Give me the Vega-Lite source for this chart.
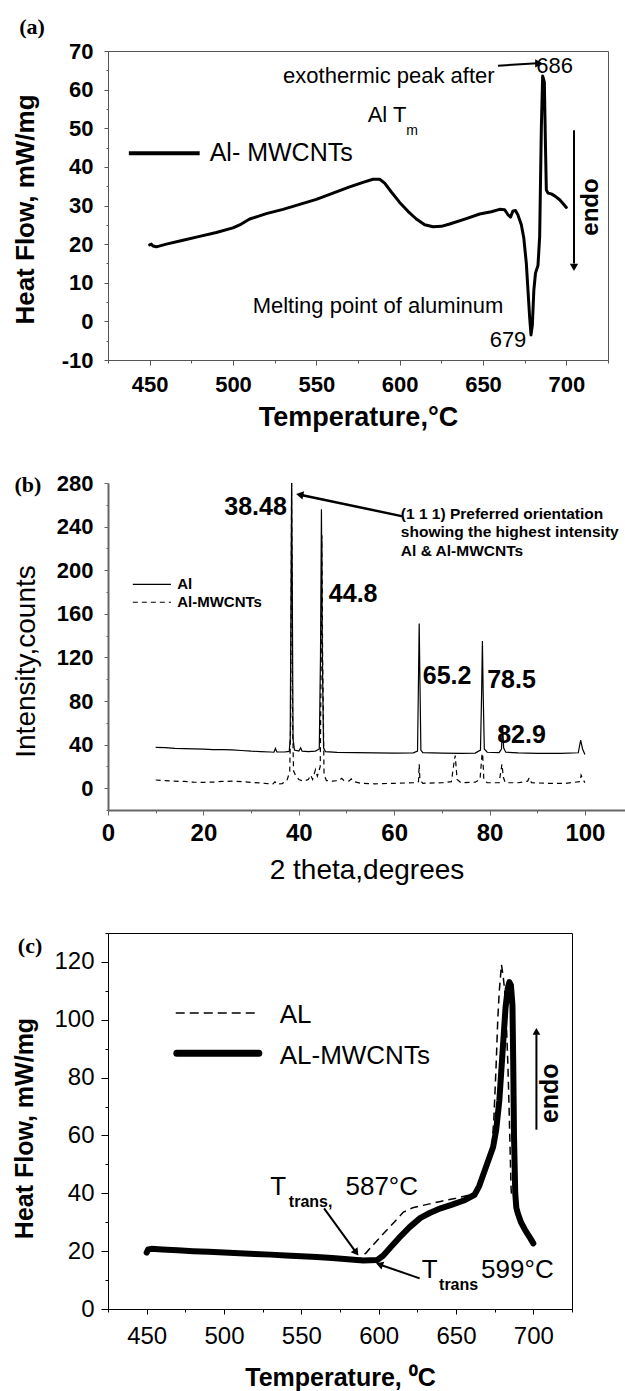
{
  "$schema": "https://vega.github.io/schema/vega-lite/v6.json",
  "background": "white",
  "padding": {"left": 11, "top": 15, "right": 0, "bottom": 0},
  "bounds": "flush",
  "spacing": 123,
  "config": {
    "font": "Liberation Sans",
    "axis": {"grid": false, "labelColor": "black", "titleColor": "black", "labelOverlap": false, "labelFlush": false, "labelBound": false, "labelFont": "Liberation Sans", "titleFont": "Liberation Sans"}
  },
  "datasets": {
    "dsc_a": [
      {"x": 450, "y": 19.8}, {"x": 451, "y": 20.0}, {"x": 452, "y": 19.5}, {"x": 454, "y": 19.3}, {"x": 460, "y": 20.0},
      {"x": 470, "y": 21.0}, {"x": 480, "y": 22.0}, {"x": 490, "y": 23.0}, {"x": 500, "y": 24.2}, {"x": 505, "y": 25.2},
      {"x": 510, "y": 26.5}, {"x": 515, "y": 27.2}, {"x": 520, "y": 27.9}, {"x": 530, "y": 29.0}, {"x": 540, "y": 30.3},
      {"x": 550, "y": 31.6}, {"x": 560, "y": 33.2}, {"x": 570, "y": 34.8}, {"x": 578, "y": 36.0}, {"x": 584, "y": 36.8},
      {"x": 588, "y": 36.8}, {"x": 591, "y": 35.8}, {"x": 595, "y": 33.5}, {"x": 600, "y": 30.8}, {"x": 605, "y": 28.5},
      {"x": 610, "y": 26.5}, {"x": 615, "y": 25.0}, {"x": 620, "y": 24.5}, {"x": 625, "y": 24.6}, {"x": 630, "y": 25.2},
      {"x": 640, "y": 26.6}, {"x": 648, "y": 27.8}, {"x": 655, "y": 28.4}, {"x": 660, "y": 29.0}, {"x": 663, "y": 28.9},
      {"x": 665, "y": 27.6}, {"x": 666.5, "y": 27.0}, {"x": 668, "y": 28.6}, {"x": 669.5, "y": 28.7}, {"x": 671, "y": 27.5},
      {"x": 673, "y": 25.0}, {"x": 674.5, "y": 21.5}, {"x": 676, "y": 15.0}, {"x": 677, "y": 8.0}, {"x": 678, "y": 1.0},
      {"x": 678.8, "y": -3.5}, {"x": 679.6, "y": -1.0}, {"x": 680.5, "y": 8.0}, {"x": 681.5, "y": 12.5}, {"x": 683, "y": 14.5},
      {"x": 684, "y": 22.0}, {"x": 685, "y": 50.0}, {"x": 685.8, "y": 63.5}, {"x": 686.8, "y": 62.0}, {"x": 687.5, "y": 45.0},
      {"x": 688, "y": 34.0}, {"x": 689, "y": 33.2}, {"x": 691, "y": 33.0}, {"x": 693, "y": 32.5}, {"x": 696, "y": 31.5},
      {"x": 698, "y": 30.5}, {"x": 700, "y": 29.5}
    ],
    "xrd_al": [
      {"x": 10, "y": 37.5}, {"x": 12, "y": 37.2}, {"x": 14, "y": 36.6}, {"x": 16, "y": 36.3}, {"x": 18, "y": 36}, {"x": 20, "y": 35.8},
      {"x": 22, "y": 35.4}, {"x": 24, "y": 35.4}, {"x": 26, "y": 35.2}, {"x": 28, "y": 34.6}, {"x": 30, "y": 34}, {"x": 32, "y": 33.6},
      {"x": 34, "y": 33.2}, {"x": 34.8, "y": 33}, {"x": 35.1, "y": 36.5}, {"x": 35.4, "y": 33.2}, {"x": 37, "y": 33.2}, {"x": 38, "y": 33.8},
      {"x": 38.2, "y": 45}, {"x": 38.4, "y": 200}, {"x": 38.5, "y": 280}, {"x": 38.62, "y": 200}, {"x": 38.8, "y": 45}, {"x": 39.1, "y": 35},
      {"x": 40, "y": 34}, {"x": 40.4, "y": 37}, {"x": 40.7, "y": 34}, {"x": 42, "y": 33.6}, {"x": 43.5, "y": 34}, {"x": 44.3, "y": 36},
      {"x": 44.55, "y": 120}, {"x": 44.75, "y": 256}, {"x": 44.95, "y": 120}, {"x": 45.2, "y": 37}, {"x": 45.6, "y": 33.5}, {"x": 48, "y": 32.8},
      {"x": 52, "y": 32.6}, {"x": 56, "y": 32.4}, {"x": 60, "y": 32.2}, {"x": 64, "y": 32.4}, {"x": 64.9, "y": 34}, {"x": 65.1, "y": 100},
      {"x": 65.25, "y": 151}, {"x": 65.4, "y": 100}, {"x": 65.6, "y": 35}, {"x": 66, "y": 32.6}, {"x": 70, "y": 32.2}, {"x": 74, "y": 32},
      {"x": 77, "y": 32.2}, {"x": 78.1, "y": 35}, {"x": 78.35, "y": 90}, {"x": 78.5, "y": 135}, {"x": 78.65, "y": 90}, {"x": 78.9, "y": 36},
      {"x": 79.5, "y": 33}, {"x": 82, "y": 32.6}, {"x": 82.5, "y": 36}, {"x": 82.75, "y": 58}, {"x": 82.95, "y": 37}, {"x": 83.4, "y": 33},
      {"x": 86, "y": 32.4}, {"x": 90, "y": 32}, {"x": 95, "y": 32}, {"x": 98.6, "y": 32.5}, {"x": 99.1, "y": 44}, {"x": 99.5, "y": 36},
      {"x": 100, "y": 31}
    ],
    "xrd_cnt": [
      {"x": 10, "y": 7.5}, {"x": 12, "y": 7}, {"x": 14, "y": 6.4}, {"x": 16, "y": 6.2}, {"x": 18, "y": 5.5}, {"x": 20, "y": 5.4},
      {"x": 22, "y": 5.6}, {"x": 24, "y": 6.2}, {"x": 26, "y": 6.4}, {"x": 28, "y": 6}, {"x": 30, "y": 5.4}, {"x": 32, "y": 4.8},
      {"x": 33.5, "y": 4.2}, {"x": 34.6, "y": 4}, {"x": 35, "y": 6}, {"x": 35.3, "y": 3.8}, {"x": 36.5, "y": 4.2}, {"x": 37.5, "y": 7},
      {"x": 38.1, "y": 15}, {"x": 38.3, "y": 60}, {"x": 38.5, "y": 280}, {"x": 38.7, "y": 60}, {"x": 38.9, "y": 16}, {"x": 39.3, "y": 12},
      {"x": 40, "y": 8}, {"x": 41, "y": 6.5}, {"x": 42, "y": 8}, {"x": 42.5, "y": 12}, {"x": 42.9, "y": 8}, {"x": 43.5, "y": 17},
      {"x": 43.9, "y": 11}, {"x": 44.5, "y": 20}, {"x": 44.7, "y": 120}, {"x": 44.85, "y": 232}, {"x": 45, "y": 120}, {"x": 45.3, "y": 12},
      {"x": 45.8, "y": 7}, {"x": 47, "y": 6.5}, {"x": 48.5, "y": 7}, {"x": 49, "y": 9}, {"x": 49.5, "y": 7}, {"x": 50.5, "y": 6.5},
      {"x": 51, "y": 8.5}, {"x": 51.6, "y": 6}, {"x": 53, "y": 4.5}, {"x": 56, "y": 4}, {"x": 60, "y": 4.5}, {"x": 64, "y": 5},
      {"x": 65.1, "y": 6}, {"x": 65.25, "y": 22}, {"x": 65.4, "y": 8}, {"x": 66, "y": 4.5}, {"x": 70, "y": 5}, {"x": 72, "y": 6},
      {"x": 72.6, "y": 25}, {"x": 72.8, "y": 30}, {"x": 73.2, "y": 8}, {"x": 74, "y": 5}, {"x": 77, "y": 5.5}, {"x": 78, "y": 8},
      {"x": 78.4, "y": 30}, {"x": 78.55, "y": 32}, {"x": 78.8, "y": 8}, {"x": 79.5, "y": 5}, {"x": 82, "y": 5}, {"x": 82.6, "y": 22},
      {"x": 82.9, "y": 10}, {"x": 83.3, "y": 5}, {"x": 86, "y": 5}, {"x": 88, "y": 6.5}, {"x": 88.3, "y": 9.5}, {"x": 88.8, "y": 5},
      {"x": 92, "y": 4.5}, {"x": 96, "y": 4.5}, {"x": 99, "y": 6}, {"x": 99.2, "y": 12}, {"x": 99.6, "y": 8}, {"x": 100, "y": 5}
    ],
    "dsc_cnt": [
      {"x": 450, "y": 19.5}, {"x": 451, "y": 20.6}, {"x": 453, "y": 20.8}, {"x": 460, "y": 20.6}, {"x": 470, "y": 20.3}, {"x": 480, "y": 20},
      {"x": 490, "y": 19.8}, {"x": 500, "y": 19.5}, {"x": 510, "y": 19.3}, {"x": 520, "y": 19}, {"x": 530, "y": 18.8}, {"x": 540, "y": 18.5},
      {"x": 550, "y": 18.2}, {"x": 560, "y": 18}, {"x": 570, "y": 17.6}, {"x": 580, "y": 17.2}, {"x": 590, "y": 16.8}, {"x": 599, "y": 16.9},
      {"x": 603, "y": 18.5}, {"x": 608, "y": 21.5}, {"x": 613, "y": 24.5}, {"x": 620, "y": 28.3}, {"x": 627, "y": 31.5}, {"x": 633, "y": 33.2},
      {"x": 640, "y": 34.8}, {"x": 647, "y": 36}, {"x": 655, "y": 37.5}, {"x": 662, "y": 39.5}, {"x": 665, "y": 42.5}, {"x": 668, "y": 47},
      {"x": 671, "y": 51.5}, {"x": 674, "y": 56}, {"x": 676, "y": 62}, {"x": 678, "y": 72}, {"x": 680, "y": 88}, {"x": 682, "y": 104},
      {"x": 683.5, "y": 111}, {"x": 684.5, "y": 113}, {"x": 685.5, "y": 112}, {"x": 686.5, "y": 105}, {"x": 687, "y": 85}, {"x": 687.5, "y": 60},
      {"x": 688.3, "y": 40}, {"x": 689, "y": 35}, {"x": 690, "y": 33}, {"x": 692, "y": 30}, {"x": 695, "y": 27}, {"x": 698, "y": 24.5},
      {"x": 700, "y": 22.7}
    ],
    "dsc_al": [
      {"x": 450, "y": 20}, {"x": 452, "y": 20.8}, {"x": 460, "y": 20.7}, {"x": 470, "y": 20.4}, {"x": 480, "y": 20.1}, {"x": 490, "y": 19.8},
      {"x": 500, "y": 19.6}, {"x": 510, "y": 19.3}, {"x": 520, "y": 19.1}, {"x": 530, "y": 18.8}, {"x": 540, "y": 18.5}, {"x": 550, "y": 18.2},
      {"x": 560, "y": 17.9}, {"x": 570, "y": 17.6}, {"x": 580, "y": 17.3}, {"x": 587, "y": 17.1}, {"x": 592, "y": 19.5}, {"x": 597, "y": 22.5},
      {"x": 603, "y": 26}, {"x": 610, "y": 30}, {"x": 616, "y": 33.5}, {"x": 622, "y": 35}, {"x": 630, "y": 36}, {"x": 640, "y": 37.2},
      {"x": 650, "y": 38.3}, {"x": 658, "y": 39.3}, {"x": 663, "y": 40.2}, {"x": 666, "y": 45}, {"x": 670, "y": 50.5}, {"x": 673, "y": 54},
      {"x": 674.5, "y": 66}, {"x": 676, "y": 85}, {"x": 677, "y": 100}, {"x": 678, "y": 110}, {"x": 679.4, "y": 119}, {"x": 680.5, "y": 115},
      {"x": 681.5, "y": 110}, {"x": 682.5, "y": 100}, {"x": 683.5, "y": 85}, {"x": 684.3, "y": 70}, {"x": 685, "y": 55}, {"x": 685.6, "y": 42},
      {"x": 686, "y": 38.5}
    ]
  },
  "vconcat": [
    {
      "width": 500,
      "height": 309,
      "view": {"stroke": "#555", "strokeWidth": 1},
      "encoding": {
        "x": {"field": "x", "type": "quantitative", "scale": {"domain": [425, 725], "nice": false, "zero": false},
          "axis": {"title": "Temperature,°C", "values": [425, 450, 475, 500, 525, 550, 575, 600, 625, 650, 675, 700, 725],
            "labelExpr": "datum.value % 50 === 0 ? '' + datum.value : ''",
            "tickSize": {"condition": {"test": "datum.value % 50 === 0", "value": 5}, "value": 3},
            "labelFontWeight": "bold", "labelFontSize": 22, "labelPadding": 9, "tickColor": "#555", "domainColor": "#555",
            "titleFontWeight": "bold", "titleFontSize": 27, "titleY": 57, "titleBaseline": "middle"}},
        "y": {"field": "y", "type": "quantitative", "scale": {"domain": [-10, 70], "nice": false, "zero": false},
          "axis": {"title": "Heat Flow, mW/mg", "values": [-10, -5, 0, 5, 10, 15, 20, 25, 30, 35, 40, 45, 50, 55, 60, 65, 70],
            "labelExpr": "datum.value % 10 === 0 ? '' + datum.value : ''",
            "tickSize": {"condition": {"test": "datum.value % 10 === 0", "value": 4}, "value": 2},
            "labelFontWeight": "bold", "labelFontSize": 22, "labelPadding": 11, "tickColor": "#555", "domainColor": "#555",
            "titleFontWeight": "bold", "titleFontSize": 26, "titleX": -83, "titleY": 158, "titleBaseline": "middle"}}
      },
      "layer": [
        {"data": {"name": "dsc_a"}, "mark": {"type": "line", "color": "black", "strokeWidth": 3, "strokeJoin": "round", "strokeCap": "round"},
          "encoding": {"order": {"value": null}}},
        {"data": {"values": [{"x": 437.5, "x2": 480, "y": 43.5}]}, "mark": {"type": "rule", "color": "black", "strokeWidth": 4},
          "encoding": {"x2": {"field": "x2"}}},
        {"data": {"values": [{"x": 486, "y": 43.5, "label": "Al- MWCNTs"}]},
          "mark": {"type": "text", "fontSize": 25, "align": "left", "baseline": "middle", "color": "black"},
          "encoding": {"text": {"field": "label"}}},
        {"data": {"values": [
            {"x": 593.5, "y": 63.5, "label": "exothermic peak after"},
            {"x": 587, "y": 3.9, "label": "Melting point of aluminum"},
            {"x": 592.4, "y": 53.4, "label": "Al T"}
          ]},
          "mark": {"type": "text", "fontSize": 22, "align": "center", "baseline": "middle", "color": "black"},
          "encoding": {"text": {"field": "label"}}},
        {"data": {"values": [{"x": 607.5, "y": 49.2, "label": "m"}]},
          "mark": {"type": "text", "fontSize": 14, "align": "center", "baseline": "middle", "color": "black"},
          "encoding": {"text": {"field": "label"}}},
        {"data": {"values": [{"x": 693, "y": 66, "label": "686"}, {"x": 665, "y": -4.8, "label": "679"}]},
          "mark": {"type": "text", "fontSize": 22, "align": "center", "baseline": "middle", "color": "black"},
          "encoding": {"text": {"field": "label"}}},
        {"data": {"values": [{"x": 659, "x2": 682.5, "y": 66.2, "y2": 66.8}, {"x": 704.6, "x2": 704.6, "y": 49.5, "y2": 15}]},
          "mark": {"type": "rule", "color": "black", "strokeWidth": 2},
          "encoding": {"x2": {"field": "x2"}, "y2": {"field": "y2"}}},
        {"data": {"values": [{"x": 683.5, "y": 66.8}]},
          "mark": {"type": "point", "shape": "triangle-right", "filled": true, "size": 70, "color": "black", "opacity": 1}},
        {"data": {"values": [{"x": 704.6, "y": 14}]},
          "mark": {"type": "point", "shape": "triangle-down", "filled": true, "size": 70, "color": "black", "opacity": 1}},
        {"data": {"values": [{"x": 714.7, "y": 29.6, "label": "endo"}]},
          "mark": {"type": "text", "fontSize": 24, "fontWeight": "bold", "angle": 270, "align": "center", "baseline": "middle", "color": "black"},
          "encoding": {"text": {"field": "label"}}},
        {"data": {"values": [{"x": 379.4, "y": 76.3, "label": "(a)"}]},
          "mark": {"type": "text", "font": "Liberation Serif", "fontSize": 22, "fontWeight": "bold", "align": "center", "baseline": "middle", "color": "black"},
          "encoding": {"text": {"field": "label"}}}
      ]
    },
    {
      "width": 517,
      "height": 327,
      "view": {"stroke": null},
      "encoding": {
        "x": {"field": "x", "type": "quantitative", "scale": {"domain": [0, 108.4], "nice": false, "zero": false},
          "axis": {"title": "2 theta,degrees", "values": [0, 10, 20, 30, 40, 50, 60, 70, 80, 90, 100],
            "labelExpr": "datum.value % 20 === 0 ? '' + datum.value : ''",
            "tickSize": {"condition": {"test": "datum.value % 20 === 0", "value": 5}, "value": 3},
            "labelFontWeight": "bold", "labelFontSize": 24, "labelPadding": 6, "tickColor": "#666", "domainColor": "#666", "domainWidth": 2,
            "titleFontWeight": "normal", "titleFontSize": 28, "titleY": 60, "titleBaseline": "middle"}},
        "y": {"field": "y", "type": "quantitative", "scale": {"domain": [-20, 280], "nice": false, "zero": false},
          "axis": {"title": "Intensity,counts", "values": [-20, 0, 20, 40, 60, 80, 100, 120, 140, 160, 180, 200, 220, 240, 260, 280],
            "labelExpr": "datum.value % 40 === 0 ? '' + datum.value : ''",
            "tickSize": {"condition": {"test": "datum.value % 40 === 0", "value": 4}, "value": 2},
            "labelFontWeight": "bold", "labelFontSize": 22, "labelPadding": 11, "tickColor": "#666", "domainColor": "#666", "domainWidth": 2,
            "titleFontWeight": "normal", "titleFontSize": 28, "titleX": -82, "titleY": 178, "titleBaseline": "middle"}}
      },
      "layer": [
        {"mark": {"type": "rule", "color": "black", "strokeWidth": 1}, "encoding": {"y": {"datum": 280}, "x": null}},
        {"data": {"name": "xrd_cnt"}, "mark": {"type": "line", "color": "black", "strokeWidth": 1.2, "strokeDash": [5, 4]},
          "encoding": {"order": {"value": null}}},
        {"data": {"name": "xrd_al"}, "mark": {"type": "line", "color": "black", "strokeWidth": 1.2},
          "encoding": {"order": {"value": null}}},
        {"data": {"values": [{"x": 5.2, "x2": 13.2, "y": 187}]}, "mark": {"type": "rule", "color": "black", "strokeWidth": 1.2},
          "encoding": {"x2": {"field": "x2"}}},
        {"data": {"values": [{"x": 5.2, "x2": 13.2, "y": 170.6}]}, "mark": {"type": "rule", "color": "black", "strokeWidth": 1.2, "strokeDash": [5, 4]},
          "encoding": {"x2": {"field": "x2"}}},
        {"data": {"values": [{"x": 14.5, "y": 187, "label": "Al"}, {"x": 14.5, "y": 170.6, "label": "Al-MWCNTs"}]},
          "mark": {"type": "text", "fontSize": 15, "fontWeight": "bold", "align": "left", "baseline": "middle", "color": "black"},
          "encoding": {"text": {"field": "label"}}},
        {"data": {"values": [{"x": 37.5, "y": 257.7, "label": "38.48"}]},
          "mark": {"type": "text", "fontSize": 25, "fontWeight": "bold", "align": "right", "baseline": "middle", "color": "black"},
          "encoding": {"text": {"field": "label"}}},
        {"data": {"values": [
            {"x": 46.3, "y": 178, "label": "44.8"},
            {"x": 66, "y": 103, "label": "65.2"},
            {"x": 79.5, "y": 99, "label": "78.5"},
            {"x": 81.6, "y": 49, "label": "82.9"}
          ]},
          "mark": {"type": "text", "fontSize": 25, "fontWeight": "bold", "align": "left", "baseline": "middle", "color": "black"},
          "encoding": {"text": {"field": "label"}}},
        {"data": {"values": [
            {"x": 61.4, "y": 251.6, "label": "(1 1 1) Preferred orientation"},
            {"x": 61.4, "y": 234.8, "label": "showing the highest intensity"},
            {"x": 61.4, "y": 217.4, "label": "Al & Al-MWCNTs"}
          ]},
          "mark": {"type": "text", "fontSize": 15.5, "fontWeight": "bold", "align": "left", "baseline": "middle", "color": "black"},
          "encoding": {"text": {"field": "label"}}},
        {"data": {"values": [{"x": 61.8, "x2": 40.5, "y": 249.4, "y2": 269}]}, "mark": {"type": "rule", "color": "black", "strokeWidth": 2.5},
          "encoding": {"x2": {"field": "x2"}, "y2": {"field": "y2"}}},
        {"data": {"values": [{"x": 40.2, "y": 269.3}]},
          "mark": {"type": "point", "shape": "triangle-left", "angle": 11.6, "filled": true, "size": 70, "color": "black", "opacity": 1}},
        {"data": {"values": [{"x": -16.8, "y": 278, "label": "(b)"}]},
          "mark": {"type": "text", "font": "Liberation Serif", "fontSize": 22, "fontWeight": "bold", "align": "center", "baseline": "middle", "color": "black"},
          "encoding": {"text": {"field": "label"}}}
      ]
    },
    {
      "width": 464,
      "height": 376,
      "view": {"stroke": "black", "strokeWidth": 1},
      "encoding": {
        "x": {"field": "x", "type": "quantitative", "scale": {"domain": [425, 725], "nice": false, "zero": false},
          "axis": {"title": "Temperature, ⁰C", "values": [425, 450, 475, 500, 525, 550, 575, 600, 625, 650, 675, 700, 725],
            "labelExpr": "datum.value % 50 === 0 ? '' + datum.value : ''",
            "tickSize": {"condition": {"test": "datum.value % 50 === 0", "value": 5}, "value": 3},
            "labelFontWeight": "normal", "labelFontSize": 24, "labelPadding": 10, "tickColor": "black", "domainColor": "black",
            "titleFontWeight": "bold", "titleFontSize": 25, "titleY": 68, "titleBaseline": "middle"}},
        "y": {"field": "y", "type": "quantitative", "scale": {"domain": [0, 130], "nice": false, "zero": false},
          "axis": {"title": "Heat Flow, mW/mg", "values": [0, 10, 20, 30, 40, 50, 60, 70, 80, 90, 100, 110, 120, 130],
            "labelExpr": "datum.value % 20 === 0 ? '' + datum.value : ''",
            "tickSize": {"condition": {"test": "datum.value % 20 === 0", "value": 7}, "value": 3},
            "labelFontWeight": "normal", "labelFontSize": 24, "labelPadding": 7, "tickColor": "black", "domainColor": "black",
            "titleFontWeight": "bold", "titleFontSize": 25, "titleX": -83.5, "titleY": 195, "titleBaseline": "middle"}}
      },
      "layer": [
        {"data": {"name": "dsc_al"}, "mark": {"type": "line", "color": "black", "strokeWidth": 1.5, "strokeDash": [8, 5]},
          "encoding": {"order": {"value": null}}},
        {"data": {"name": "dsc_cnt"}, "mark": {"type": "line", "color": "black", "strokeWidth": 6, "strokeJoin": "round", "strokeCap": "round"},
          "encoding": {"order": {"value": null}}},
        {"data": {"values": [{"x": 468.8, "x2": 520.4, "y": 102.3}]}, "mark": {"type": "rule", "color": "black", "strokeWidth": 1.5, "strokeDash": [9, 5]},
          "encoding": {"x2": {"field": "x2"}}},
        {"data": {"values": [{"x": 469.5, "x2": 522.5, "y": 88.4}]}, "mark": {"type": "rule", "color": "black", "strokeWidth": 7, "strokeCap": "round"},
          "encoding": {"x2": {"field": "x2"}}},
        {"data": {"values": [{"x": 536, "y": 101.5, "label": "AL"}, {"x": 536, "y": 87.5, "label": "AL-MWCNTs"}]},
          "mark": {"type": "text", "fontSize": 26, "align": "left", "baseline": "middle", "color": "black"},
          "encoding": {"text": {"field": "label"}}},
        {"data": {"values": [{"x": 702, "x2": 702, "y": 62, "y2": 95}, {"x": 564.7, "x2": 585.5, "y": 34.8, "y2": 19.5}, {"x": 626.5, "x2": 600.5, "y": 10.6, "y2": 15.4}]},
          "mark": {"type": "rule", "color": "black", "strokeWidth": 2},
          "encoding": {"x2": {"field": "x2"}, "y2": {"field": "y2"}}},
        {"data": {"values": [{"x": 702, "y": 96}]},
          "mark": {"type": "point", "shape": "triangle-up", "filled": true, "size": 60, "color": "black", "opacity": 1}},
        {"data": {"values": [{"x": 585.5, "y": 19.5}]},
          "mark": {"type": "point", "shape": "triangle-right", "angle": 54, "filled": true, "size": 70, "color": "black", "opacity": 1}},
        {"data": {"values": [{"x": 600.5, "y": 15.4}]},
          "mark": {"type": "point", "shape": "triangle-left", "angle": 19.7, "filled": true, "size": 70, "color": "black", "opacity": 1}},
        {"data": {"values": [{"x": 710.5, "y": 74.6, "label": "endo"}]},
          "mark": {"type": "text", "fontSize": 25, "fontWeight": "bold", "angle": 270, "align": "center", "baseline": "middle", "color": "black"},
          "encoding": {"text": {"field": "label"}}},
        {"data": {"values": [{"x": 535, "y": 42.3, "label": "T"}, {"x": 602, "y": 42.3, "label": "587°C"}, {"x": 633, "y": 13.5, "label": "T"}, {"x": 689.7, "y": 13.5, "label": "599°C"}]},
          "mark": {"type": "text", "fontSize": 26, "align": "center", "baseline": "middle", "color": "black"},
          "encoding": {"text": {"field": "label"}}},
        {"data": {"values": [{"x": 556, "y": 37, "label": "trans,"}, {"x": 651.7, "y": 8.3, "label": "trans"}]},
          "mark": {"type": "text", "fontSize": 16, "fontWeight": "bold", "align": "center", "baseline": "middle", "color": "black"},
          "encoding": {"text": {"field": "label"}}},
        {"data": {"values": [{"x": 374.6, "y": 125.6, "label": "(c)"}]},
          "mark": {"type": "text", "font": "Liberation Serif", "fontSize": 22, "fontWeight": "bold", "align": "center", "baseline": "middle", "color": "black"},
          "encoding": {"text": {"field": "label"}}}
      ]
    }
  ]
}
